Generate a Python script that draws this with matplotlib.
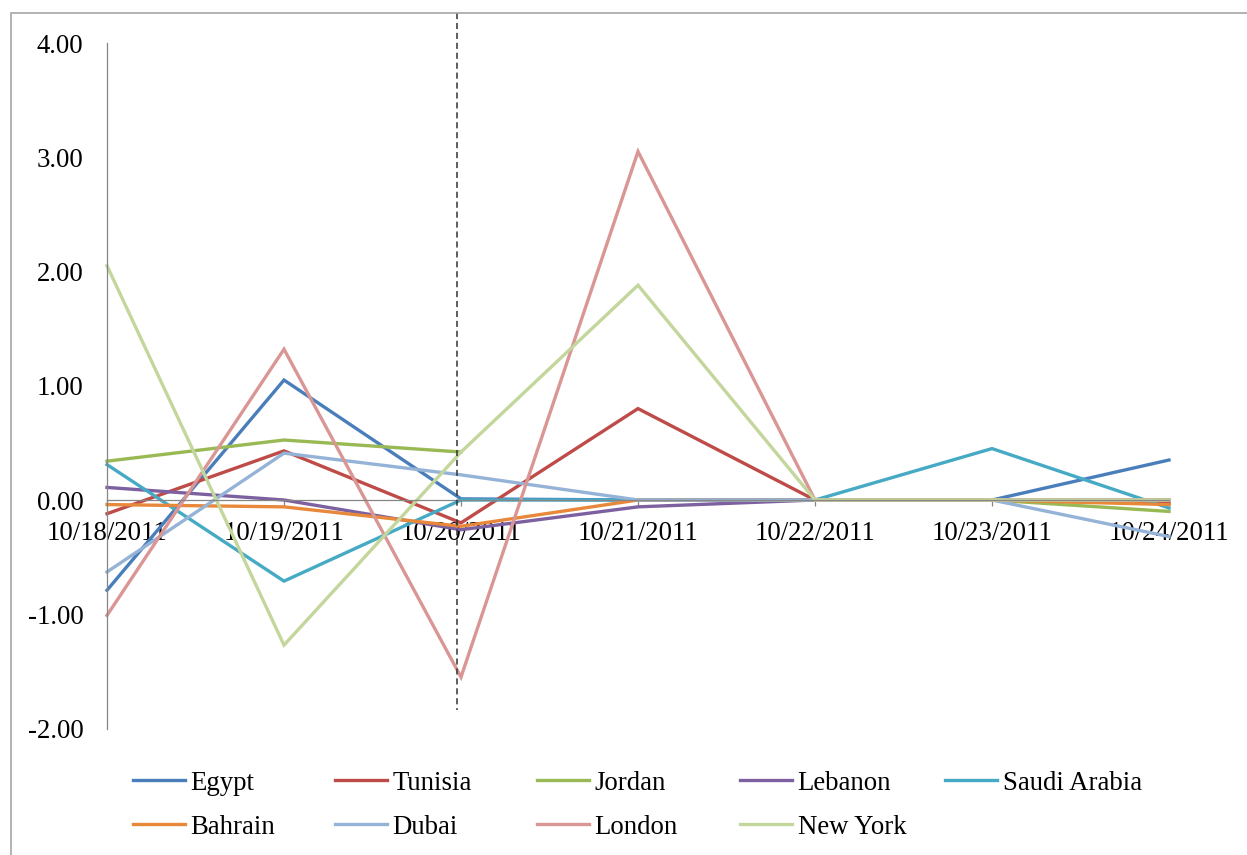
import numpy as np
import matplotlib
matplotlib.use("Agg")
import matplotlib.pyplot as plt
from matplotlib.patches import Rectangle

plt.rcParams["font.family"] = ["Liberation Serif", "DejaVu Serif"]
plt.rcParams["axes.unicode_minus"] = False

dates = ["10/18/2011", "10/19/2011", "10/20/2011", "10/21/2011",
         "10/22/2011", "10/23/2011", "10/24/2011"]

egypt = [-0.79, 1.05, 0.01, 0.0, 0.0, 0.0, 0.35]
tunisia = [-0.12, 0.43, -0.20, 0.80, 0.0, 0.0, -0.03]
jordan = [0.34, 0.525, 0.42, np.nan, 0.0, 0.0, -0.10]
lebanon = [0.11, 0.0, -0.26, -0.06, 0.0, 0.0, 0.0]
saudi_arabia = [0.31, -0.71, 0.0, 0.0, 0.0, 0.45, -0.07]
bahrain = [-0.04, -0.06, -0.23, 0.0, 0.0, 0.0, -0.04]
dubai = [-0.63, 0.41, 0.22, 0.0, 0.0, 0.0, -0.32]
london = [-1.01, 1.32, -1.55, 3.05, 0.0, 0.0, 0.0]
new_york = [2.05, -1.27, 0.42, 1.88, 0.0, 0.0, 0.0]

series = [
    ("Egypt", egypt, "#4A7EBB"),
    ("Tunisia", tunisia, "#BE4B48"),
    ("Jordan", jordan, "#98B954"),
    ("Lebanon", lebanon, "#7D60A0"),
    ("Saudi Arabia", saudi_arabia, "#46AAC5"),
    ("Bahrain", bahrain, "#E8883A"),
    ("Dubai", dubai, "#95B3D7"),
    ("London", london, "#D99694"),
    ("New York", new_york, "#C3D69B"),
]

FS = 19.3
W, H = 1247, 855
fig = plt.figure(figsize=(W / 100, H / 100), dpi=100)

# outer chart-area frame
fig.patches.append(Rectangle((11 / W, -0.1), 1.2, 1 - 13 / H + 0.1,
                             transform=fig.transFigure, fill=False,
                             edgecolor="#A6A6A6", linewidth=1.2, zorder=0))

left, right = 107 / W, 1169 / W
bottom, top = 1 - 728.5 / H, 1 - 43 / H
ax = fig.add_axes([left, bottom, right - left, top - bottom])

x = np.arange(len(dates))
handles = []
for name, vals, color in series:
    (ln,) = ax.plot(x, vals, color=color, linewidth=2.4, label=name,
                    solid_joinstyle="miter", clip_on=False)
    handles.append(ln)

ax.set_xlim(0, 6)
ax.set_ylim(-2, 4)
ax.set_yticks([-2, -1, 0, 1, 2, 3, 4])
ax.set_yticklabels([f"{v:.2f}" for v in [-2, -1, 0, 1, 2, 3, 4]])
ax.set_xticks(x)
ax.set_xticklabels(dates)

for s in ["top", "right"]:
    ax.spines[s].set_visible(False)
ax.spines["left"].set_color("#868686")
ax.spines["left"].set_linewidth(0.9)
ax.spines["bottom"].set_position(("data", 0))
ax.spines["bottom"].set_color("#868686")
ax.spines["bottom"].set_linewidth(0.9)

ax.tick_params(axis="y", length=0, pad=17, labelsize=FS, labelcolor="black")
ax.tick_params(axis="x", length=4, width=0.9, color="#868686", pad=11,
               labelsize=FS, labelcolor="black", direction="out")

# dashed marker line near 10/20/2011
ax.plot([1.98, 1.98], [(500 - 13) / 114.25, (500 - 710) / 114.25],
        color="#333333", linewidth=1.1, linestyle=(0, (4, 2.5)), clip_on=False,
        zorder=5)

# legend, five entries per row
col_x = [133, 335, 537, 740, 945]
row_y = [783, 827]
for i, h in enumerate(handles):
    r, c = divmod(i, 5)
    fig.legend([h], [h.get_label()], loc="center left",
               bbox_to_anchor=(col_x[c] / W, 1 - row_y[r] / H),
               frameon=False, fontsize=FS, handlelength=1.95,
               handletextpad=0.2, borderpad=0, borderaxespad=0)

fig.savefig("out.png", dpi=100)
